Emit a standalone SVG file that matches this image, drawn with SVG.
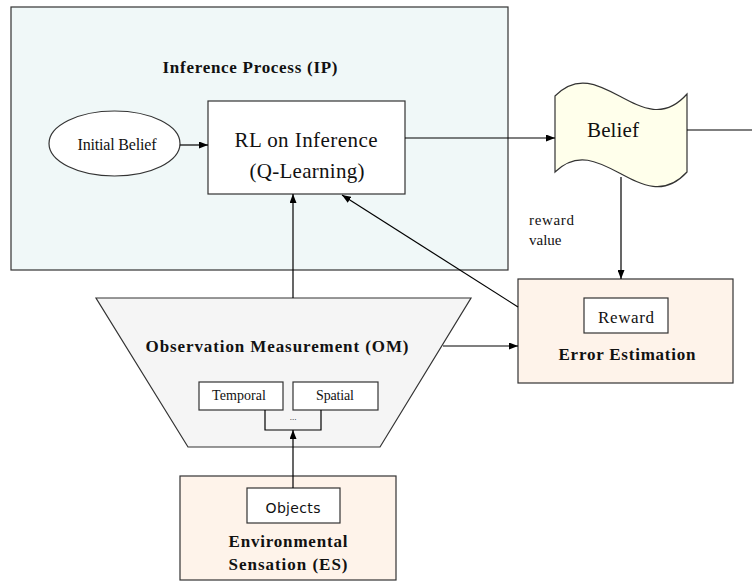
<svg xmlns="http://www.w3.org/2000/svg" width="752" height="581" viewBox="0 0 752 581">
<defs>
<marker id="arr" markerUnits="userSpaceOnUse" markerWidth="9" markerHeight="7" refX="9" refY="3.5" orient="auto">
<path d="M0,0 L9,3.5 L0,7 z" fill="#000"/>
</marker>
<style>
.box{stroke:#333;stroke-width:1.2}
.serif{font-family:"Liberation Serif","Times New Roman",serif;fill:#111}
.bold{font-weight:bold;font-size:17px}
.con{stroke:#000;stroke-width:1.2;fill:none}
</style>
</defs>
<rect width="752" height="581" fill="#fff"/>

<g id="ip">
<rect class="box" x="11" y="7" width="497" height="263" fill="#F0F8F8"/>
<text class="serif bold" x="250" y="73" text-anchor="middle" textLength="175" lengthAdjust="spacing">Inference Process (IP)</text>
</g>

<g id="initial-belief">
<ellipse class="box" cx="114.5" cy="143.5" rx="65.5" ry="32.5" fill="#fff"/>
<text class="serif" x="117" y="150" font-size="16" text-anchor="middle" textLength="79" lengthAdjust="spacing">Initial Belief</text>
</g>

<g id="rl">
<rect class="box" x="208" y="101" width="197" height="93" fill="#fff"/>
<text class="serif" x="306" y="147" font-size="21" text-anchor="middle" textLength="143" lengthAdjust="spacing">RL on Inference</text>
<text class="serif" x="307" y="178" font-size="21" text-anchor="middle" textLength="115" lengthAdjust="spacing">(Q-Learning)</text>
</g>

<g id="belief">
<path class="box" fill="#FFFFEB" d="M555,96 C600,50 642,145 687,94 L687,172 C642,221 600,128 555,172 Z"/>
<text class="serif" x="613" y="137" font-size="21" text-anchor="middle" textLength="52" lengthAdjust="spacing">Belief</text>
</g>

<g id="reward-label">
<text class="serif" x="529" y="225" font-size="15" textLength="45" lengthAdjust="spacing">reward</text>
<text class="serif" x="529" y="245" font-size="15">value</text>
</g>

<g id="error-estimation">
<rect class="box" x="518" y="279" width="215" height="104" fill="#FEF3EA"/>
<rect class="box" x="584" y="298" width="84" height="35" fill="#fff"/>
<text class="serif" x="626" y="323" font-size="17" text-anchor="middle" textLength="56" lengthAdjust="spacing">Reward</text>
<text class="serif bold" x="627" y="360" text-anchor="middle" textLength="137" lengthAdjust="spacing">Error Estimation</text>
</g>

<g id="om">
<path class="box" fill="#F5F5F5" d="M96,298 L471,298 L380,447 L188,447 Z"/>
<text class="serif bold" x="277" y="352" text-anchor="middle" textLength="263" lengthAdjust="spacing">Observation Measurement (OM)</text>
<rect class="box" x="199" y="382" width="84" height="28" fill="#fff"/>
<text class="serif" x="239" y="400" font-size="14" text-anchor="middle" textLength="54" lengthAdjust="spacing">Temporal</text>
<rect class="box" x="293" y="382" width="85" height="28" fill="#fff"/>
<text class="serif" x="335" y="400" font-size="14" text-anchor="middle" textLength="38" lengthAdjust="spacing">Spatial</text>
<path class="con" d="M265,410 L265,430 L321,430 L321,410"/>
<text class="serif" x="293" y="420" font-size="9" fill="#666" text-anchor="middle">...</text>
</g>

<g id="es">
<rect class="box" x="180" y="476" width="216" height="104" fill="#FEF3EA"/>
<rect class="box" x="247" y="488" width="93" height="35" fill="#fff"/>
<text x="293" y="513" font-family="DejaVu Sans, Verdana, sans-serif" font-size="14" fill="#111" text-anchor="middle" textLength="55" lengthAdjust="spacing">Objects</text>
<text class="serif bold" x="288" y="547" text-anchor="middle" textLength="119" lengthAdjust="spacing">Environmental</text>
<text class="serif bold" x="288" y="570" text-anchor="middle" textLength="119" lengthAdjust="spacing">Sensation (ES)</text>
</g>

<g id="connectors">
<line class="con" x1="180" y1="145" x2="208" y2="145" marker-end="url(#arr)"/>
<line class="con" x1="405" y1="138" x2="555" y2="138" marker-end="url(#arr)"/>
<line class="con" x1="687" y1="130" x2="752" y2="130"/>
<line class="con" x1="621" y1="177" x2="621" y2="279" marker-end="url(#arr)"/>
<line class="con" x1="518" y1="307" x2="342" y2="195" marker-end="url(#arr)"/>
<line class="con" x1="293" y1="298" x2="293" y2="194" marker-end="url(#arr)"/>
<line class="con" x1="443" y1="346" x2="518" y2="346" marker-end="url(#arr)"/>
<line class="con" x1="293" y1="488" x2="293" y2="430" marker-end="url(#arr)"/>
</g>
</svg>
